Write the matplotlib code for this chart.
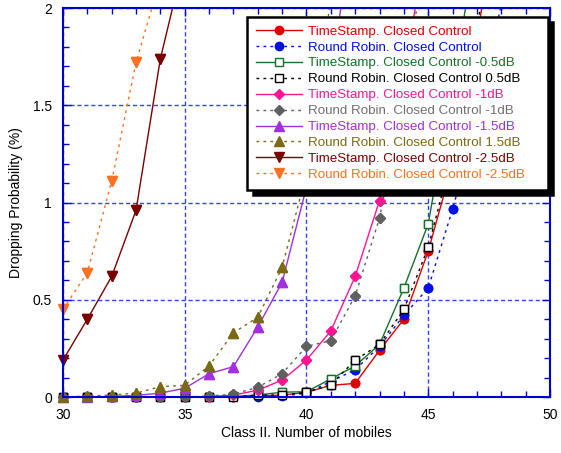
import numpy as np
import matplotlib
matplotlib.use("Agg")
from matplotlib import pyplot as plt
from matplotlib.ticker import MultipleLocator

plt.rcParams['font.family'] = ['Liberation Sans', 'DejaVu Sans']

# dropping probability (%) per number of class II mobiles, starting at 30
ts_closed = [0, 0, 0, 0, 0, 0, 0, 0, 0.005, 0.01, 0.024, 0.06, 0.07, 0.24, 0.40, 0.75, 1.2, 1.85, 2.6]
rr_closed = [0, 0, 0, 0, 0, 0, 0, 0, 0, 0.005, 0.02, 0.08, 0.14, 0.26, 0.42, 0.56, 0.965, 1.42, 2.02, 2.6]
ts_m05 = [0, 0, 0, 0, 0, 0, 0, 0.003, 0.01, 0.025, 0.027, 0.093, 0.16, 0.27, 0.56, 0.89, 1.6, 2.35]
rr_05 = [0, 0, 0, 0, 0, 0, 0, 0, 0.01, 0.01, 0.024, 0.063, 0.19, 0.27, 0.45, 0.77, 1.25, 1.9, 2.6]
ts_m1 = [0, 0, 0, 0, 0, 0, 0.002, 0.01, 0.035, 0.087, 0.19, 0.34, 0.62, 1.01, 1.65, 2.4]
rr_m1 = [0, 0, 0, 0, 0, 0, 0.005, 0.015, 0.05, 0.12, 0.26, 0.29, 0.52, 0.92, 1.55, 2.4]
ts_m15 = [0, 0, 0.003, 0.008, 0.02, 0.045, 0.12, 0.156, 0.36, 0.59, 1.08, 1.65, 2.5]
rr_15 = [0, 0.005, 0.01, 0.02, 0.053, 0.06, 0.16, 0.33, 0.41, 0.667, 1.15, 2.05, 2.9]
ts_m25 = [0.19, 0.40, 0.62, 0.96, 1.74, 2.26]
rr_m25 = [0.45, 0.64, 1.11, 1.72, 2.15]

labels = ['TimeStamp. Closed Control', 'Round Robin. Closed Control',
          'TimeStamp. Closed Control -0.5dB', 'Round Robin. Closed Control 0.5dB',
          'TimeStamp. Closed Control -1dB', 'Round Robin. Closed Control -1dB',
          'TimeStamp. Closed Control -1.5dB', 'Round Robin. Closed Control 1.5dB',
          'TimeStamp. Closed Control -2.5dB', 'Round Robin. Closed Control -2.5dB']

dash = (0, (2, 3))
styles = [
    (ts_closed, '#e00000', '-', 'o', 'fill', 6),
    (rr_closed, '#0010e0', dash, 'o', 'fill', 6),
    (ts_m05, '#17702a', '-', 's', 'open', 5.5),
    (rr_05, '#000000', dash, 's', 'open', 5.5),
    (ts_m1, '#ff1493', '-', 'D', 'fill', 5),
    (rr_m1, '#606060', dash, 'D', 'fill', 5),
    (ts_m15, '#a030e0', '-', '^', 'fill', 7),
    (rr_15, '#7a6a14', dash, '^', 'fill', 7),
    (ts_m25, '#7a0000', '-', 'v', 'fill', 7),
    (rr_m25, '#ff7020', dash, 'v', 'fill', 7),
]
text_colors = ['#e00000', '#0010e0', '#17702a', '#000000', '#ff1493',
               '#707070', '#a030e0', '#7a6a14', '#7a0000', '#ff7020']

fig = plt.figure(figsize=(5.61, 4.53), dpi=100)
ax = fig.add_axes([0.1123, 0.1236, 0.868, 0.8587])

handles = []
for (vals, col, ls, mk, fill, ms), lab in zip(styles, labels):
    x = np.arange(30, 30 + len(vals))
    y = np.array(vals)
    face = col if fill == 'fill' else 'white'
    h, = ax.plot(x, y, linestyle=ls, color=col, lw=1, marker=mk, ms=ms,
                 mfc=face, mec=col, mew=1, label=lab)
    handles.append(h)
    # markers sitting on the axis are drawn whole
    keep = y <= 2.0
    ax.plot(x[keep], y[keep], linestyle='none', marker=mk, ms=ms,
            mfc=face, mec=col, mew=1, clip_on=False)

ax.set_xlim(30, 50)
ax.set_ylim(0, 2)
ax.xaxis.set_major_locator(MultipleLocator(5))
ax.xaxis.set_minor_locator(MultipleLocator(1))
ax.yaxis.set_major_locator(MultipleLocator(0.5))
ax.yaxis.set_minor_locator(MultipleLocator(0.1))
ax.set_yticks([0, 0.5, 1, 1.5, 2])
ax.set_yticklabels(['0', '0.5', '1', '1.5', '2'])
ax.tick_params(which='both', direction='in', top=True, right=True,
               color='#0000cc', labelsize=10, width=1)
ax.tick_params(which='major', length=6, pad=8)
ax.tick_params(which='minor', length=4)
for s in ax.spines.values():
    s.set_color('#0000cc')
    s.set_linewidth(1.5)
ax.grid(True, which='major', color='#3344ff', linestyle=(0, (3, 2)), lw=1)
ax.set_axisbelow(True)

ax.set_xlabel('Class II. Number of mobiles', fontsize=10, labelpad=3)
ax.set_ylabel('Dropping Probability (%)', fontsize=10, labelpad=7)

leg = ax.legend(handles=handles, loc='upper left', mode='expand',
                bbox_to_anchor=(0.378, 0.5, 0.617, 0.478),
                borderaxespad=0, fontsize=9.6, handlelength=3.5, handletextpad=0.4,
                labelspacing=0.27, borderpad=0.65, fancybox=False, framealpha=1,
                edgecolor='black',
                shadow={'ox': 4, 'oy': -4, 'color': 'black', 'alpha': 1})
leg.get_frame().set_linewidth(1.8)
for t, c in zip(leg.get_texts(), text_colors):
    t.set_color(c)

fig.savefig('out.png', dpi=100)
